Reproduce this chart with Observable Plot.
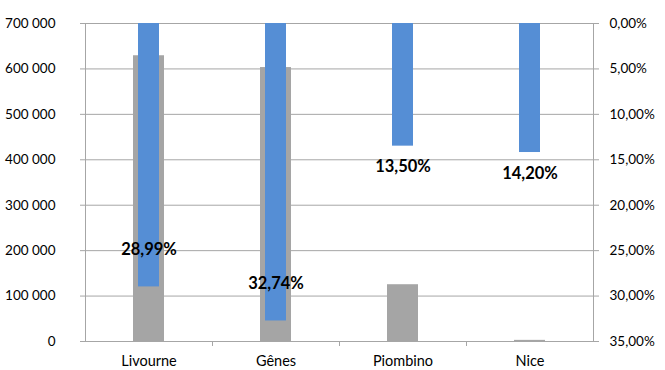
<!DOCTYPE html>
<html><head><meta charset="utf-8">
<script src="https://cdn.jsdelivr.net/npm/d3@7"></script>
<script src="https://cdn.jsdelivr.net/npm/@observablehq/plot@0.6"></script>
<style>body{margin:0;background:#fff}svg{font-family:Lato,"Open Sans",sans-serif}</style>
</head><body><div id="chart"></div>
<script>
const categories = ["Livourne", "Gênes", "Piombino", "Nice"];
const volumes = [629000, 603000, 125000, 2500];
const shares = [0.2899, 0.3274, 0.135, 0.142];
const leftTicks = [0, 100000, 200000, 300000, 400000, 500000, 600000, 700000];
const rightTicks = [0, 0.05, 0.10, 0.15, 0.20, 0.25, 0.30, 0.35];

const yMax = 700000, pMax = 0.35;
const toLeft = p => yMax * (1 - p / pMax);
const fromLeft = v => (1 - v / yMax) * pMax;
const fr = d3.formatLocale({decimal: ",", thousands: "\u00a0", grouping: [3], currency: ["", "€"], percent: "%"});
const fmtNum = fr.format(",.0f");
const fmtPct = fr.format(".2%");

const data = categories.map((c, i) => ({cat: c, vol: volumes[i], share: shares[i], i}));
const grid = "#a6a6a6";

const chart = Plot.plot({
  width: 665, height: 370,
  marginLeft: 85, marginRight: 72, marginTop: 23, marginBottom: 29,
  style: {fontSize: "14px", fontFamily: "Lato, sans-serif", color: "#000"},
  x: {domain: categories, padding: 0, label: null},
  y: {domain: [0, yMax], label: null},
  marks: [
    Plot.gridY(leftTicks, {stroke: grid, strokeOpacity: 1}),
    Plot.barY(data, {x: "cat", y: "vol", fill: "#a5a5a5", insetLeft: 48, insetRight: 48}),
    Plot.barY(data, {x: "cat", y1: yMax, y2: d => toLeft(d.share), fill: "#558ed5", insetLeft: 53, insetRight: 53}),
    Plot.frame({anchor: "left", stroke: grid}),
    Plot.frame({anchor: "right", stroke: grid}),
    Plot.ruleY([0], {stroke: grid}),
    Plot.ruleX(categories.slice(1), {x: d => d, dx: -63.5, y1: 0, y2: -11000, stroke: grid}),
    Plot.axisY(leftTicks, {anchor: "left", tickSize: 5, tickPadding: 25, stroke: grid, tickFormat: fmtNum, fontSize: 13.5, fill: "#000"}),
    Plot.axisY(rightTicks.map(toLeft), {anchor: "right", tickSize: 5, tickPadding: 11, stroke: grid, tickFormat: v => fmtPct(Math.abs(fromLeft(v)) < 1e-9 ? 0 : fromLeft(v)), fontSize: 13.5, fill: "#000"}),
    Plot.axisX({tickSize: 0, tickPadding: 14, fontSize: 14.5, fill: "#000"}),
    Plot.text(data.filter(d => d.i < 2), {x: "cat", y: d => toLeft(d.share), text: d => fmtPct(d.share), dy: -37, fontWeight: "bold", fontSize: 16.5, fill: "#000"}),
    Plot.text(data.filter(d => d.i >= 2), {x: "cat", y: d => toLeft(d.share), text: d => fmtPct(d.share), dy: 21, fontWeight: "bold", fontSize: 16.5, fill: "#000"})
  ]
});
document.getElementById("chart").appendChild(chart);
</script></body></html>
